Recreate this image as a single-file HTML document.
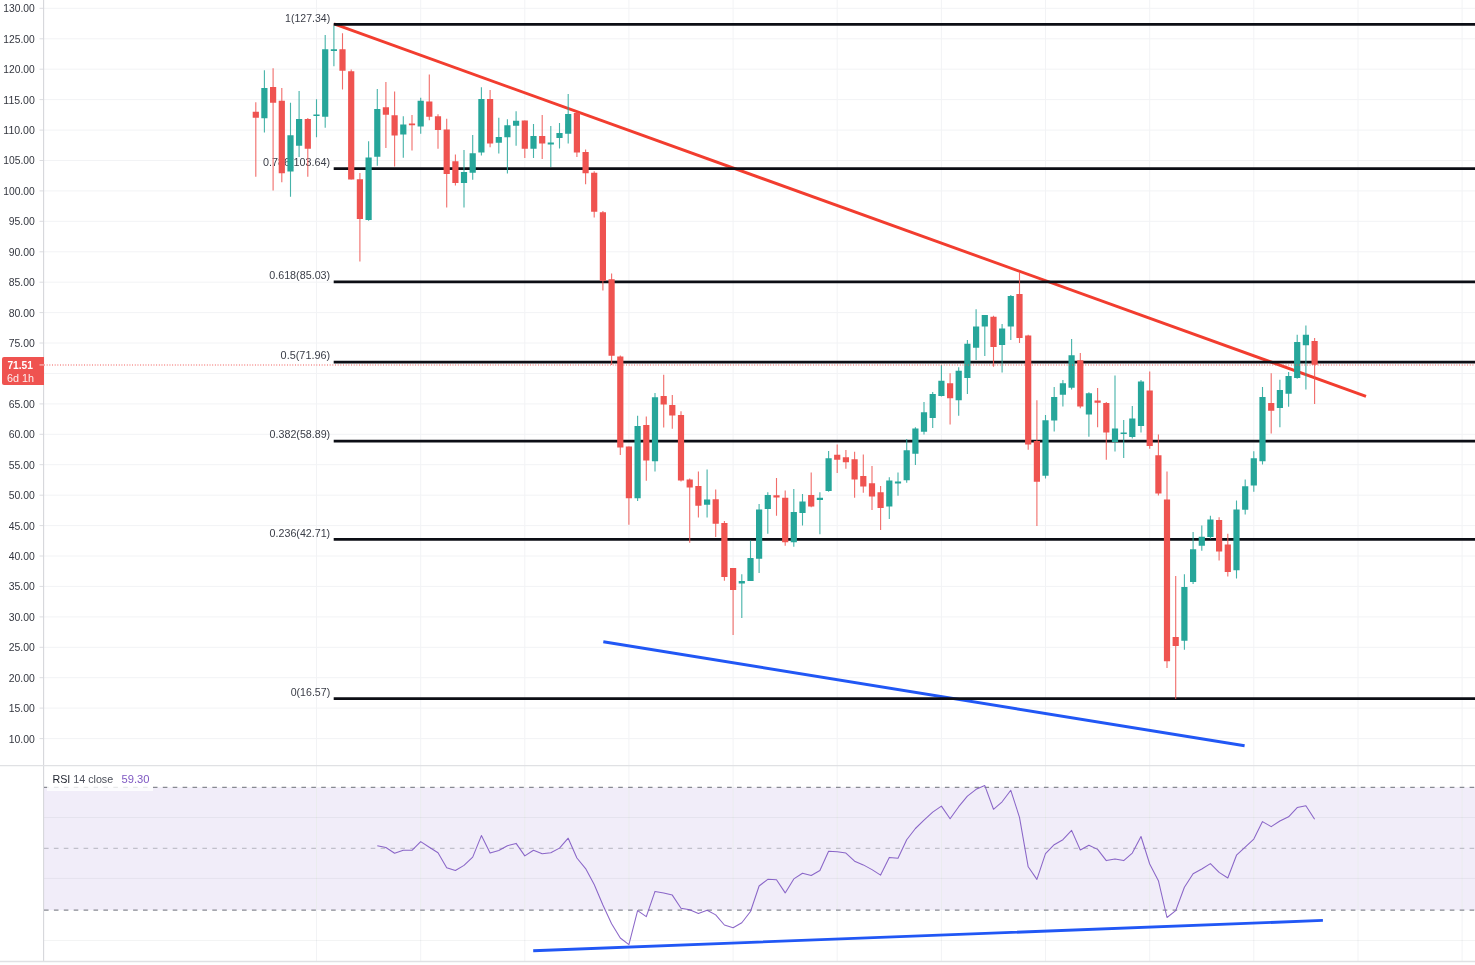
<!DOCTYPE html>
<html lang="en"><head><meta charset="utf-8"><title>Chart</title>
<style>html,body{margin:0;padding:0;background:#fff;overflow:hidden}svg{display:block}text{font-family:"Liberation Sans",sans-serif}</style></head><body>
<svg width="1475" height="965" viewBox="0 0 1475 965">
<rect width="1475" height="965" fill="#ffffff"/>
<rect x="44" y="787.3" width="1431" height="122.9" fill="#f1edf9"/>
<path d="M316.5 0V765M316.5 766V961M420.7 0V765M420.7 766V961M524.8 0V765M524.8 766V961M628.9 0V765M628.9 766V961M733.1 0V765M733.1 766V961M837.2 0V765M837.2 766V961M941.4 0V765M941.4 766V961M1045.5 0V765M1045.5 766V961M1149.7 0V765M1149.7 766V961M1253.8 0V765M1253.8 766V961M1358.0 0V765M1358.0 766V961M1462.1 0V765M1462.1 766V961M44 738.6H1475M44 708.1H1475M44 677.7H1475M44 647.3H1475M44 616.9H1475M44 586.4H1475M44 556.0H1475M44 525.6H1475M44 495.2H1475M44 464.7H1475M44 434.3H1475M44 403.9H1475M44 373.5H1475M44 343.0H1475M44 312.6H1475M44 282.2H1475M44 251.8H1475M44 221.3H1475M44 190.9H1475M44 160.5H1475M44 130.1H1475M44 99.6H1475M44 69.2H1475M44 38.8H1475M44 8.3H1475" stroke="#f2f3f5" stroke-width="1" fill="none"/>
<path d="M44 817.5H1475M44 878.4H1475M44 940.5H1475" stroke="#2a2e39" stroke-opacity="0.055" stroke-width="1" fill="none"/>
<path d="M316.5 787V910M420.7 787V910M524.8 787V910M628.9 787V910M733.1 787V910M837.2 787V910M941.4 787V910M1045.5 787V910M1149.7 787V910M1253.8 787V910M1358.0 787V910M1462.1 787V910" stroke="#2a2e39" stroke-opacity="0.035" stroke-width="1" fill="none"/>
<path d="M39.5 738.6H44M39.5 708.1H44M39.5 677.7H44M39.5 647.3H44M39.5 616.9H44M39.5 586.4H44M39.5 556.0H44M39.5 525.6H44M39.5 495.2H44M39.5 464.7H44M39.5 434.3H44M39.5 403.9H44M39.5 373.5H44M39.5 343.0H44M39.5 312.6H44M39.5 282.2H44M39.5 251.8H44M39.5 221.3H44M39.5 190.9H44M39.5 160.5H44M39.5 130.1H44M39.5 99.6H44M39.5 69.2H44M39.5 38.8H44M39.5 8.3H44" stroke="#dcdde1" stroke-width="1" fill="none"/>
<path d="M43.6 0V961.5" stroke="#d6d7db" stroke-width="1.1" fill="none"/>
<path d="M0 765.6H1475M0 961.5H1475" stroke="#e0e1e4" stroke-width="1.3" fill="none"/>
<g font-size="11" fill="#33363f" text-anchor="end">
<text x="34.8" y="742.5" textLength="26.1" lengthAdjust="spacingAndGlyphs">10.00</text>
<text x="34.8" y="712.0" textLength="26.1" lengthAdjust="spacingAndGlyphs">15.00</text>
<text x="34.8" y="681.6" textLength="26.1" lengthAdjust="spacingAndGlyphs">20.00</text>
<text x="34.8" y="651.2" textLength="26.1" lengthAdjust="spacingAndGlyphs">25.00</text>
<text x="34.8" y="620.8" textLength="26.1" lengthAdjust="spacingAndGlyphs">30.00</text>
<text x="34.8" y="590.3" textLength="26.1" lengthAdjust="spacingAndGlyphs">35.00</text>
<text x="34.8" y="559.9" textLength="26.1" lengthAdjust="spacingAndGlyphs">40.00</text>
<text x="34.8" y="529.5" textLength="26.1" lengthAdjust="spacingAndGlyphs">45.00</text>
<text x="34.8" y="499.1" textLength="26.1" lengthAdjust="spacingAndGlyphs">50.00</text>
<text x="34.8" y="468.6" textLength="26.1" lengthAdjust="spacingAndGlyphs">55.00</text>
<text x="34.8" y="438.2" textLength="26.1" lengthAdjust="spacingAndGlyphs">60.00</text>
<text x="34.8" y="407.8" textLength="26.1" lengthAdjust="spacingAndGlyphs">65.00</text>
<text x="34.8" y="377.4" textLength="26.1" lengthAdjust="spacingAndGlyphs">70.00</text>
<text x="34.8" y="346.9" textLength="26.1" lengthAdjust="spacingAndGlyphs">75.00</text>
<text x="34.8" y="316.5" textLength="26.1" lengthAdjust="spacingAndGlyphs">80.00</text>
<text x="34.8" y="286.1" textLength="26.1" lengthAdjust="spacingAndGlyphs">85.00</text>
<text x="34.8" y="255.7" textLength="26.1" lengthAdjust="spacingAndGlyphs">90.00</text>
<text x="34.8" y="225.2" textLength="26.1" lengthAdjust="spacingAndGlyphs">95.00</text>
<text x="34.8" y="194.8" textLength="31.5" lengthAdjust="spacingAndGlyphs">100.00</text>
<text x="34.8" y="164.4" textLength="31.5" lengthAdjust="spacingAndGlyphs">105.00</text>
<text x="34.8" y="134.0" textLength="31.5" lengthAdjust="spacingAndGlyphs">110.00</text>
<text x="34.8" y="103.5" textLength="31.5" lengthAdjust="spacingAndGlyphs">115.00</text>
<text x="34.8" y="73.1" textLength="31.5" lengthAdjust="spacingAndGlyphs">120.00</text>
<text x="34.8" y="42.7" textLength="31.5" lengthAdjust="spacingAndGlyphs">125.00</text>
<text x="34.8" y="12.2" textLength="31.5" lengthAdjust="spacingAndGlyphs">130.00</text>
</g>
<path d="M334 23.95L1366 396.3" stroke="#f23d2f" stroke-width="2.9" fill="none"/>
<path d="M603.3 641.7L1244.6 745.8M533.2 950.7L1322.9 920.4" stroke="#2157f5" stroke-width="2.9" fill="none"/>
<g font-size="11.3" fill="#3a3d47" text-anchor="end">
<text x="330.2" y="21.6" textLength="45.1" lengthAdjust="spacingAndGlyphs">1(127.34)</text>
<text x="330.2" y="165.8" textLength="67.3" lengthAdjust="spacingAndGlyphs">0.786(103.64)</text>
<text x="330.2" y="279.1" textLength="61.0" lengthAdjust="spacingAndGlyphs">0.618(85.03)</text>
<text x="330.2" y="359.2" textLength="49.6" lengthAdjust="spacingAndGlyphs">0.5(71.96)</text>
<text x="330.2" y="438.4" textLength="60.6" lengthAdjust="spacingAndGlyphs">0.382(58.89)</text>
<text x="330.2" y="536.6" textLength="60.6" lengthAdjust="spacingAndGlyphs">0.236(42.71)</text>
<text x="330.2" y="695.8" textLength="39.5" lengthAdjust="spacingAndGlyphs">0(16.57)</text>
</g>
<path d="M333.7 24.35H1475M333.7 168.60H1475M333.7 281.80H1475M333.7 362.00H1475M333.7 441.20H1475M333.7 539.40H1475M333.7 698.50H1475" stroke="#0c0e15" stroke-width="2.75" fill="none"/>
<path d="M255.8 102.3V176.7M273.1 68.3V190.4M281.8 88.1V182.2M307.8 118.0V176.7M342.5 33.2V89.6M351.2 69.5V179.6M359.9 173.0V261.6M385.9 81.9V148.0M394.6 91.6V166.6M412.0 115.0V150.6M429.3 74.4V120.2M438.0 114.3V148.8M446.7 118.7V207.6M455.4 154.6V185.5M490.1 89.9V147.3M524.8 120.4V158.1M542.2 115.1V159.1M576.9 111.8V157.0M585.6 149.4V184.2M594.2 171.2V217.4M602.9 211.1V290.5M611.6 273.4V365.0M620.3 355.4V455.1M628.9 446.4V524.7M646.3 416.6V480.7M663.7 374.8V427.5M672.3 394.9V428.8M681.0 411.3V481.5M689.7 478.6V542.8M698.4 471.4V517.4M715.7 489.6V537.1M724.4 521.1V580.7M733.1 568.0V635.1M776.5 478.1V515.7M785.2 490.4V545.7M811.2 472.4V507.2M837.2 444.5V473.1M845.9 450.0V468.7M854.6 451.8V497.8M863.3 454.5V492.8M872.0 466.1V510.0M880.6 486.1V529.9M950.1 373.2V424.6M993.5 315.7V366.8M1019.5 272.5V342.9M1028.2 334.7V449.7M1036.9 400.2V526.1M1080.3 353.0V408.2M1097.6 387.9V427.2M1106.3 402.0V459.7M1149.7 371.6V448.7M1158.4 434.4V495.6M1167.0 471.5V668.0M1175.7 576.0V699.0M1219.1 517.3V560.6M1227.8 533.7V576.6M1271.2 373.2V433.6M1314.6 338.0V403.9" stroke="#ef5350" stroke-width="1.1" stroke-opacity="0.85" fill="none"/>
<path d="M264.4 70.2V132.6M290.5 102.8V196.7M299.1 91.1V156.9M316.5 99.3V137.3M325.2 35.1V127.7M333.9 25.4V66.2M368.6 141.2V220.8M377.3 88.9V165.8M403.3 116.2V157.8M420.7 97.8V133.8M464.0 150.1V207.6M472.7 134.9V179.7M481.4 87.2V155.4M498.8 117.8V153.6M507.4 119.3V173.4M516.1 111.3V145.7M533.5 124.0V158.1M550.8 126.0V167.0M559.5 123.0V148.4M568.2 93.9V143.6M637.6 415.8V501.0M655.0 393.1V471.5M707.1 469.6V517.4M741.8 574.2V617.9M750.5 540.4V581.1M759.1 504.0V572.9M767.8 492.3V533.7M793.8 488.9V546.8M802.5 494.0V525.4M819.9 492.2V534.3M828.6 451.0V491.8M889.3 477.2V519.0M898.0 472.4V495.8M906.7 439.1V482.8M915.4 427.3V464.9M924.0 402.0V434.6M932.7 391.9V427.9M941.4 365.0V396.5M958.7 367.2V415.7M967.4 340.1V394.1M976.1 309.3V360.1M984.8 315.0V356.0M1002.1 324.0V372.5M1010.8 294.9V339.9M1045.5 415.1V478.5M1054.2 387.0V431.5M1062.9 380.0V406.4M1071.6 338.9V389.6M1088.9 392.2V436.8M1115.0 375.4V451.5M1123.7 420.1V457.9M1132.3 406.0V438.5M1141.0 379.9V432.5M1184.4 574.3V649.8M1193.1 532.0V584.0M1201.8 525.5V550.7M1210.4 515.8V538.8M1236.5 500.4V578.5M1245.2 479.6V514.6M1253.8 451.2V491.8M1262.5 387.0V464.6M1279.9 379.8V427.3M1288.6 372.0V406.8M1297.2 334.7V378.8M1305.9 325.6V389.5" stroke="#26a69a" stroke-width="1.1" stroke-opacity="0.85" fill="none"/>
<path d="M252.7 111.7h6.2V117.7h-6.2zM270.0 87.1h6.2V102.8h-6.2zM278.7 100.8h6.2V173.3h-6.2zM304.7 119.0h6.2V148.7h-6.2zM339.4 49.3h6.2V70.7h-6.2zM348.1 71.3h6.2V179.6h-6.2zM356.8 179.3h6.2V219.1h-6.2zM382.8 107.2h6.2V114.7h-6.2zM391.5 115.3h6.2V135.5h-6.2zM408.9 123.6h6.2V125.2h-6.2zM426.2 101.6h6.2V116.8h-6.2zM434.9 116.2h6.2V130.0h-6.2zM443.6 129.6h6.2V174.0h-6.2zM452.3 161.3h6.2V183.0h-6.2zM487.0 99.1h6.2V143.6h-6.2zM521.7 120.4h6.2V148.7h-6.2zM539.1 136.0h6.2V143.6h-6.2zM573.8 113.0h6.2V152.5h-6.2zM582.5 152.1h6.2V173.3h-6.2zM591.1 172.7h6.2V211.7h-6.2zM599.8 212.2h6.2V280.8h-6.2zM608.5 279.3h6.2V355.7h-6.2zM617.2 356.6h6.2V447.6h-6.2zM625.8 446.4h6.2V498.3h-6.2zM643.2 425.0h6.2V460.6h-6.2zM660.6 396.1h6.2V404.6h-6.2zM669.2 405.1h6.2V415.5h-6.2zM677.9 415.0h6.2V480.4h-6.2zM686.6 479.6h6.2V487.5h-6.2zM695.3 486.0h6.2V505.7h-6.2zM712.6 499.3h6.2V523.7h-6.2zM721.3 522.9h6.2V576.9h-6.2zM730.0 568.0h6.2V590.0h-6.2zM773.4 495.3h6.2V497.5h-6.2zM782.1 497.8h6.2V542.3h-6.2zM808.1 495.1h6.2V506.4h-6.2zM834.1 454.8h6.2V459.7h-6.2zM842.8 457.2h6.2V462.2h-6.2zM851.5 459.3h6.2V479.4h-6.2zM860.2 476.1h6.2V486.6h-6.2zM868.9 483.3h6.2V496.6h-6.2zM877.5 492.2h6.2V507.9h-6.2zM947.0 383.2h6.2V398.3h-6.2zM990.4 316.8h6.2V347.1h-6.2zM1016.4 294.1h6.2V338.1h-6.2zM1025.1 335.6h6.2V444.5h-6.2zM1033.8 441.0h6.2V481.8h-6.2zM1077.2 360.2h6.2V406.5h-6.2zM1094.5 400.4h6.2V402.7h-6.2zM1103.2 403.1h6.2V432.5h-6.2zM1146.6 390.6h6.2V446.0h-6.2zM1155.3 455.3h6.2V493.5h-6.2zM1163.9 499.4h6.2V661.3h-6.2zM1172.6 637.1h6.2V645.9h-6.2zM1216.0 520.1h6.2V551.5h-6.2zM1224.7 544.5h6.2V572.1h-6.2zM1268.1 403.1h6.2V410.8h-6.2zM1311.5 340.9h6.2V364.7h-6.2z" fill="#ef5350"/>
<path d="M261.3 88.1h6.2V118.3h-6.2zM287.4 135.2h6.2V171.5h-6.2zM296.0 119.0h6.2V145.7h-6.2zM313.4 114.5h6.2V116.1h-6.2zM322.1 49.3h6.2V116.8h-6.2zM330.8 49.3h6.2V50.9h-6.2zM365.5 157.6h6.2V220.0h-6.2zM374.2 109.0h6.2V156.7h-6.2zM400.2 124.4h6.2V134.6h-6.2zM417.6 100.8h6.2V126.6h-6.2zM460.9 172.1h6.2V183.0h-6.2zM469.6 153.3h6.2V172.7h-6.2zM478.3 99.1h6.2V152.5h-6.2zM495.7 136.9h6.2V142.7h-6.2zM504.3 125.2h6.2V137.2h-6.2zM513.0 120.7h6.2V125.7h-6.2zM530.4 136.0h6.2V148.7h-6.2zM547.7 142.4h6.2V144.6h-6.2zM556.4 133.1h6.2V137.9h-6.2zM565.1 114.0h6.2V133.7h-6.2zM634.5 426.0h6.2V498.3h-6.2zM651.9 397.2h6.2V461.3h-6.2zM704.0 499.5h6.2V504.7h-6.2zM738.7 580.9h6.2V583.6h-6.2zM747.4 558.0h6.2V581.1h-6.2zM756.0 509.5h6.2V558.7h-6.2zM764.7 495.0h6.2V509.0h-6.2zM790.7 512.0h6.2V542.3h-6.2zM799.4 501.4h6.2V513.0h-6.2zM816.8 497.8h6.2V500.0h-6.2zM825.5 458.2h6.2V491.0h-6.2zM886.2 480.6h6.2V506.4h-6.2zM894.9 481.6h6.2V483.6h-6.2zM903.6 450.3h6.2V480.3h-6.2zM912.3 428.4h6.2V453.7h-6.2zM920.9 412.2h6.2V431.8h-6.2zM929.6 394.1h6.2V417.9h-6.2zM938.3 380.7h6.2V395.9h-6.2zM955.6 370.7h6.2V400.3h-6.2zM964.3 343.7h6.2V378.0h-6.2zM973.0 326.6h6.2V347.8h-6.2zM981.7 315.0h6.2V326.5h-6.2zM999.0 328.4h6.2V345.1h-6.2zM1007.7 295.9h6.2V326.5h-6.2zM1042.4 420.3h6.2V475.8h-6.2zM1051.1 397.0h6.2V420.6h-6.2zM1059.8 383.2h6.2V394.7h-6.2zM1068.5 355.3h6.2V387.8h-6.2zM1085.8 393.3h6.2V414.6h-6.2zM1111.9 428.4h6.2V441.9h-6.2zM1120.6 432.5h6.2V434.1h-6.2zM1129.2 418.5h6.2V437.0h-6.2zM1137.9 381.6h6.2V426.1h-6.2zM1181.3 586.9h6.2V640.8h-6.2zM1190.0 549.3h6.2V581.9h-6.2zM1198.7 536.7h6.2V545.7h-6.2zM1207.3 519.4h6.2V537.0h-6.2zM1233.4 509.4h6.2V570.3h-6.2zM1242.1 486.3h6.2V509.7h-6.2zM1250.7 458.2h6.2V485.5h-6.2zM1259.4 397.0h6.2V461.3h-6.2zM1276.8 389.9h6.2V408.1h-6.2zM1285.5 376.0h6.2V393.8h-6.2zM1294.1 342.1h6.2V378.0h-6.2zM1302.8 334.8h6.2V345.2h-6.2z" fill="#26a69a"/>
<path d="M44 364.95H1475" stroke="#ef5350" stroke-width="1.05" stroke-dasharray="0.95 1.72" fill="none"/>
<path d="M4 357H44V385H4a2 2 0 0 1-2-2V359a2 2 0 0 1 2-2z" fill="#ef5350"/>
<path d="M39.5 364.95H44" stroke="#fbd5d4" stroke-width="1" fill="none"/>
<text x="7.4" y="368.7" font-size="10.7" font-weight="bold" fill="#ffffff" textLength="25.6" lengthAdjust="spacingAndGlyphs">71.51</text>
<text x="7" y="381.5" font-size="10.7" fill="#fdeceb" textLength="27" lengthAdjust="spacingAndGlyphs">6d 1h</text>
<path d="M44 787.3H1475M44 910.2H1475" stroke="#888a92" stroke-width="1.3" stroke-dasharray="4.6 5.3" fill="none"/>
<path d="M44 848.3H1475" stroke="#85878f" stroke-opacity="0.55" stroke-width="1" stroke-dasharray="4.6 5.3" fill="none"/>
<path d="M377.3 845.7L385.9 847.5L394.6 853.3L403.3 850.3L412.0 850.3L420.7 841.6L429.3 847.2L438.0 852.8L446.7 867.7L455.4 870.5L464.0 865.4L472.7 857.1L481.4 835.6L490.1 853.1L498.8 850.5L507.4 845.7L516.1 843.4L524.8 855.9L533.5 850.3L542.2 853.7L550.8 852.8L559.5 848.1L568.2 838.2L576.9 858.0L585.6 868.6L594.2 884.5L602.9 905.0L611.6 923.7L620.3 938.0L628.9 944.6L637.6 910.6L646.3 916.6L655.0 891.4L663.7 892.9L672.3 895.1L681.0 908.2L689.7 909.7L698.4 913.4L707.1 910.2L715.7 914.9L724.4 925.0L733.1 927.8L741.8 922.7L750.5 911.5L759.1 886.0L767.8 879.3L776.5 879.8L785.2 892.9L793.8 878.9L802.5 873.3L811.2 875.5L819.9 870.5L828.6 851.3L837.2 851.8L845.9 853.1L854.6 861.2L863.3 864.9L872.0 869.6L880.6 875.1L889.3 857.4L898.0 858.2L906.7 839.7L915.4 828.5L924.0 820.1L932.7 812.1L941.4 806.1L950.1 818.8L958.7 806.7L967.4 796.2L976.1 789.3L984.8 785.6L993.5 809.3L1002.1 801.8L1010.8 790.3L1019.5 817.3L1028.2 866.8L1036.9 879.4L1045.5 853.7L1054.2 844.7L1062.9 839.7L1071.6 830.4L1080.3 850.0L1088.9 845.3L1097.6 849.4L1106.3 860.6L1115.0 858.9L1123.7 860.6L1132.3 853.1L1141.0 836.5L1149.7 864.0L1158.4 880.7L1167.0 917.5L1175.7 910.6L1184.4 887.3L1193.1 873.7L1201.8 869.0L1210.4 863.6L1219.1 872.4L1227.8 878.0L1236.5 855.2L1245.2 847.2L1253.8 839.1L1262.5 821.6L1271.2 826.6L1279.9 821.0L1288.6 816.8L1297.2 807.6L1305.9 805.7L1314.6 819.2" stroke="#7e57c2" stroke-opacity="0.9" stroke-width="1.05" fill="none" stroke-linejoin="round"/>
<rect x="47" y="771" width="106" height="20" fill="#ffffff" fill-opacity="0.8"/>
<text x="52.4" y="783.2" font-size="11.8" fill="#1c202b" textLength="60.8" lengthAdjust="spacingAndGlyphs">RSI <tspan fill="#4a4e59">14 close</tspan></text>
<text x="121.5" y="783.2" font-size="11.8" fill="#7e57c2" textLength="28" lengthAdjust="spacingAndGlyphs">59.30</text>
</svg></body></html>
